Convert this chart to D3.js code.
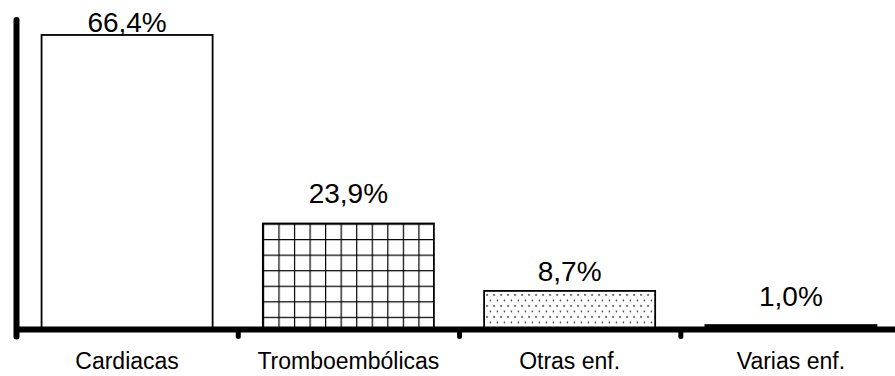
<!DOCTYPE html>
<html>
<head>
<meta charset="utf-8">
<script src="https://cdn.jsdelivr.net/npm/d3@7"></script>
<style>
  html, body { margin: 0; padding: 0; background: #fff; }
  svg { display: block; }
  text { font-family: "Liberation Sans", Arial, Helvetica, sans-serif; fill: #000; }
</style>
</head>
<body>
<svg id="chart" width="895" height="376"></svg>
<script>
// Causas de muerte: porcentaje por grupo de enfermedad
const categories = ["Cardiacas", "Tromboembólicas", "Otras enf.", "Varias enf."];
const values = [66.4, 23.9, 8.7, 1.0];
const valueLabels = ["66,4%", "23,9%", "8,7%", "1,0%"];
const fills = ["white", "url(#grid)", "url(#dots)", "#000"];

const svg = d3.select("#chart");
const W = 895, H = 376;

const x = d3.scaleBand()
  .domain(categories)
  .range([17, 901])
  .paddingInner(0.227)
  .paddingOuter(0.111);

const y = d3.scaleLinear()
  .domain([0, 70])
  .range([329.5, 19]);

const defs = svg.append("defs");

// cuadrícula para la segunda barra
const cell = x.bandwidth() / 11;
const grid = defs.append("pattern")
  .attr("id", "grid")
  .attr("patternUnits", "userSpaceOnUse")
  .attr("x", x(categories[1]))
  .attr("y", y(values[1]))
  .attr("width", cell)
  .attr("height", cell);
grid.append("rect").attr("width", cell).attr("height", cell).attr("fill", "#fff");
grid.append("path")
  .attr("d", `M0,0V${cell}M0,0H${cell}`)
  .attr("stroke", "#000")
  .attr("stroke-width", 2.4)
  .attr("fill", "none");

// punteado para la tercera barra
const dots = defs.append("pattern")
  .attr("id", "dots")
  .attr("patternUnits", "userSpaceOnUse")
  .attr("x", x(categories[2]))
  .attr("y", y(values[2]))
  .attr("width", 7)
  .attr("height", 11)
dots.append("rect").attr("width", 7).attr("height", 11).attr("fill", "#fff");
dots.append("circle").attr("cx", 3).attr("cy", 4).attr("r", 0.9).attr("fill", "#333");
dots.append("circle").attr("cx", 6.5).attr("cy", 9.5).attr("r", 0.9).attr("fill", "#333");

// barras
svg.append("g")
  .selectAll("rect")
  .data(values)
  .join("rect")
  .attr("x", (d, i) => x(categories[i]))
  .attr("y", d => y(d))
  .attr("width", x.bandwidth())
  .attr("height", d => y(0) - y(d))
  .attr("fill", (d, i) => fills[i])
  .attr("stroke", "#000")
  .attr("stroke-width", 1.8);

// etiquetas de valor
const labelLift = [3, 20, 10, 19];
svg.append("g")
  .selectAll("text")
  .data(values)
  .join("text")
  .attr("x", (d, i) => x(categories[i]) + x.bandwidth() / 2)
  .attr("y", (d, i) => y(d) - labelLift[i])
  .attr("text-anchor", "middle")
  .attr("font-size", 28)
  .text((d, i) => valueLabels[i]);

// eje X con marcas entre categorías
const axisY = y(0);
const xAxis = svg.append("g");
xAxis.append("line")
  .attr("x1", 17).attr("x2", W + 10)
  .attr("y1", axisY).attr("y2", axisY)
  .attr("stroke", "#000").attr("stroke-width", 6);
const tickXs = categories.map(c => x(c) - x.step() * x.paddingOuter())
  .concat([x(categories[categories.length - 1]) + x.bandwidth() + x.step() * x.paddingOuter()]);
xAxis.selectAll("line.tick")
  .data(tickXs.slice(1))
  .join("line")
  .attr("class", "tick")
  .attr("x1", d => d).attr("x2", d => d)
  .attr("y1", axisY).attr("y2", axisY + 7)
  .attr("stroke", "#000").attr("stroke-width", 5)
  .attr("stroke-linecap", "round");

// eje Y
svg.append("line")
  .attr("x1", 16.5).attr("x2", 16.5)
  .attr("y1", y(70) + 1).attr("y2", axisY + 7)
  .attr("stroke", "#000").attr("stroke-width", 6)
  .attr("stroke-linecap", "round");

// nombres de categoría
svg.append("g")
  .selectAll("text")
  .data(categories)
  .join("text")
  .attr("x", d => x(d) + x.bandwidth() / 2)
  .attr("y", 369)
  .attr("text-anchor", "middle")
  .attr("font-size", 23)
  .text(d => d);
</script>
</body>
</html>
